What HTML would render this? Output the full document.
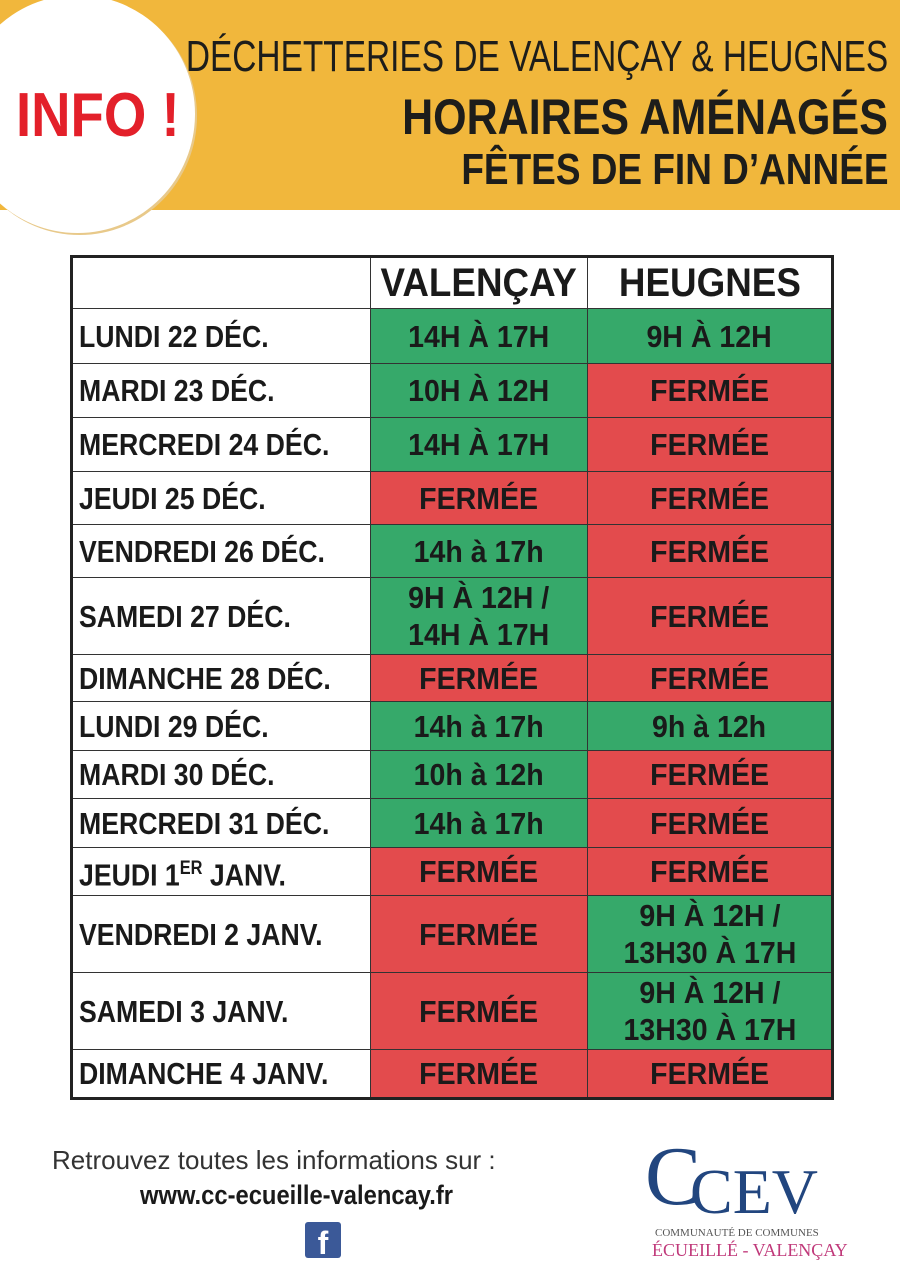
<!DOCTYPE html>
<html><head><meta charset="utf-8"><style>
*{margin:0;padding:0;box-sizing:border-box}
body{width:900px;height:1272px;background:#fff;position:relative;overflow:hidden;font-family:"Liberation Sans",sans-serif;color:#1a1a1a}
.band{position:absolute;left:0;top:0;width:900px;height:210px;background:#f1b73c}
.circle{position:absolute;left:-40px;top:-5px;width:235px;height:238px;border-radius:50%;background:#fff;box-shadow:2px 2px 0 #e8c98a}
.info{position:absolute;left:16px;top:80px;font-size:62px;font-weight:bold;color:#e3202a;transform:scaleX(.88);transform-origin:left}
.h{position:absolute;right:12px;white-space:nowrap;transform-origin:right;color:#1d1d1b}
table{position:absolute;left:70px;top:255px;width:761px;table-layout:fixed;border-collapse:collapse;border:3px solid #222}
td{border:1.5px solid #333;font-weight:bold;font-size:31px;text-align:center;line-height:37px;padding:0}
td.d{text-align:left;padding-left:6px;background:#fff}
td.d span{display:inline-block;transform:scaleX(.86);transform-origin:left;white-space:nowrap}
td span{display:inline-block;transform:scaleX(.92);white-space:nowrap}
th span{display:inline-block;transform:scaleX(.92);white-space:nowrap}
.g{background:#36a96a}.r{background:#e34b4d}
th{font-size:40px;border:1.5px solid #333;background:#fff}
</style></head><body>
<div class="band"></div>
<div class="circle"></div>
<div class="info">INFO !</div>
<div class="h" style="top:32px;font-size:44px;transform:scaleX(.76)">DÉCHETTERIES DE VALENÇAY &amp; HEUGNES</div>
<div class="h" style="top:88px;font-size:50px;font-weight:bold;transform:scaleX(.86)">HORAIRES AMÉNAGÉS</div>
<div class="h" style="top:145px;font-size:44px;font-weight:bold;transform:scaleX(.84)">FÊTES DE FIN D’ANNÉE</div>
<table>
<colgroup><col style="width:299px"><col style="width:217px"><col style="width:245px"></colgroup>
<tr style="height:52px"><td class="d"></td><th><span>VALENÇAY</span></th><th><span>HEUGNES</span></th></tr>
<tr style="height:55px"><td class="d"><span>LUNDI 22 DÉC.</span></td><td class="g"><span>14H À 17H</span></td><td class="g"><span>9H À 12H</span></td></tr>
<tr style="height:54px"><td class="d"><span>MARDI 23 DÉC.</span></td><td class="g"><span>10H À 12H</span></td><td class="r"><span>FERMÉE</span></td></tr>
<tr style="height:54px"><td class="d"><span>MERCREDI 24 DÉC.</span></td><td class="g"><span>14H À 17H</span></td><td class="r"><span>FERMÉE</span></td></tr>
<tr style="height:53px"><td class="d"><span>JEUDI 25 DÉC.</span></td><td class="r"><span>FERMÉE</span></td><td class="r"><span>FERMÉE</span></td></tr>
<tr style="height:53px"><td class="d"><span>VENDREDI 26 DÉC.</span></td><td class="g"><span>14h à 17h</span></td><td class="r"><span>FERMÉE</span></td></tr>
<tr style="height:77px"><td class="d"><span>SAMEDI 27 DÉC.</span></td><td class="g"><span>9H À 12H /<br>14H À 17H</span></td><td class="r"><span>FERMÉE</span></td></tr>
<tr style="height:47px"><td class="d"><span>DIMANCHE 28 DÉC.</span></td><td class="r"><span>FERMÉE</span></td><td class="r"><span>FERMÉE</span></td></tr>
<tr style="height:49px"><td class="d"><span>LUNDI 29 DÉC.</span></td><td class="g"><span>14h à 17h</span></td><td class="g"><span>9h à 12h</span></td></tr>
<tr style="height:48px"><td class="d"><span>MARDI 30 DÉC.</span></td><td class="g"><span>10h à 12h</span></td><td class="r"><span>FERMÉE</span></td></tr>
<tr style="height:49px"><td class="d"><span>MERCREDI 31 DÉC.</span></td><td class="g"><span>14h à 17h</span></td><td class="r"><span>FERMÉE</span></td></tr>
<tr style="height:48px"><td class="d"><span>JEUDI 1<sup style="font-size:19px">ER</sup> JANV.</span></td><td class="r"><span>FERMÉE</span></td><td class="r"><span>FERMÉE</span></td></tr>
<tr style="height:77px"><td class="d"><span>VENDREDI 2 JANV.</span></td><td class="r"><span>FERMÉE</span></td><td class="g"><span>9H À 12H /<br>13H30 À 17H</span></td></tr>
<tr style="height:77px"><td class="d"><span>SAMEDI 3 JANV.</span></td><td class="r"><span>FERMÉE</span></td><td class="g"><span>9H À 12H /<br>13H30 À 17H</span></td></tr>
<tr style="height:49px"><td class="d"><span>DIMANCHE 4 JANV.</span></td><td class="r"><span>FERMÉE</span></td><td class="r"><span>FERMÉE</span></td></tr>
</table>
<div style="position:absolute;left:52px;top:1145px;font-size:26px;color:#333">Retrouvez toutes les informations sur :</div>
<div style="position:absolute;left:140px;top:1180px;font-size:27px;font-weight:bold;transform:scaleX(.88);transform-origin:left">www.cc-ecueille-valencay.fr</div>
<div style="position:absolute;left:305px;top:1222px;width:36px;height:36px;background:#3b5998;border-radius:3px;color:#fff;font-weight:bold;font-size:32px;text-align:center;line-height:42px">f</div>
<div style="position:absolute;left:645px;top:1135px;font-family:'Liberation Serif',serif;font-size:84px;color:#22467f;line-height:84px">C</div>
<div style="position:absolute;left:690px;top:1160px;font-family:'Liberation Serif',serif;font-size:64px;color:#22467f;line-height:64px">CEV</div>
<div style="position:absolute;left:655px;top:1227px;font-family:'Liberation Serif',serif;font-size:11px;color:#555">COMMUNAUTÉ DE COMMUNES</div>
<div style="position:absolute;left:652px;top:1240px;font-family:'Liberation Serif',serif;font-size:18px;color:#c0397a">ÉCUEILLÉ - VALENÇAY</div>
</body></html>
